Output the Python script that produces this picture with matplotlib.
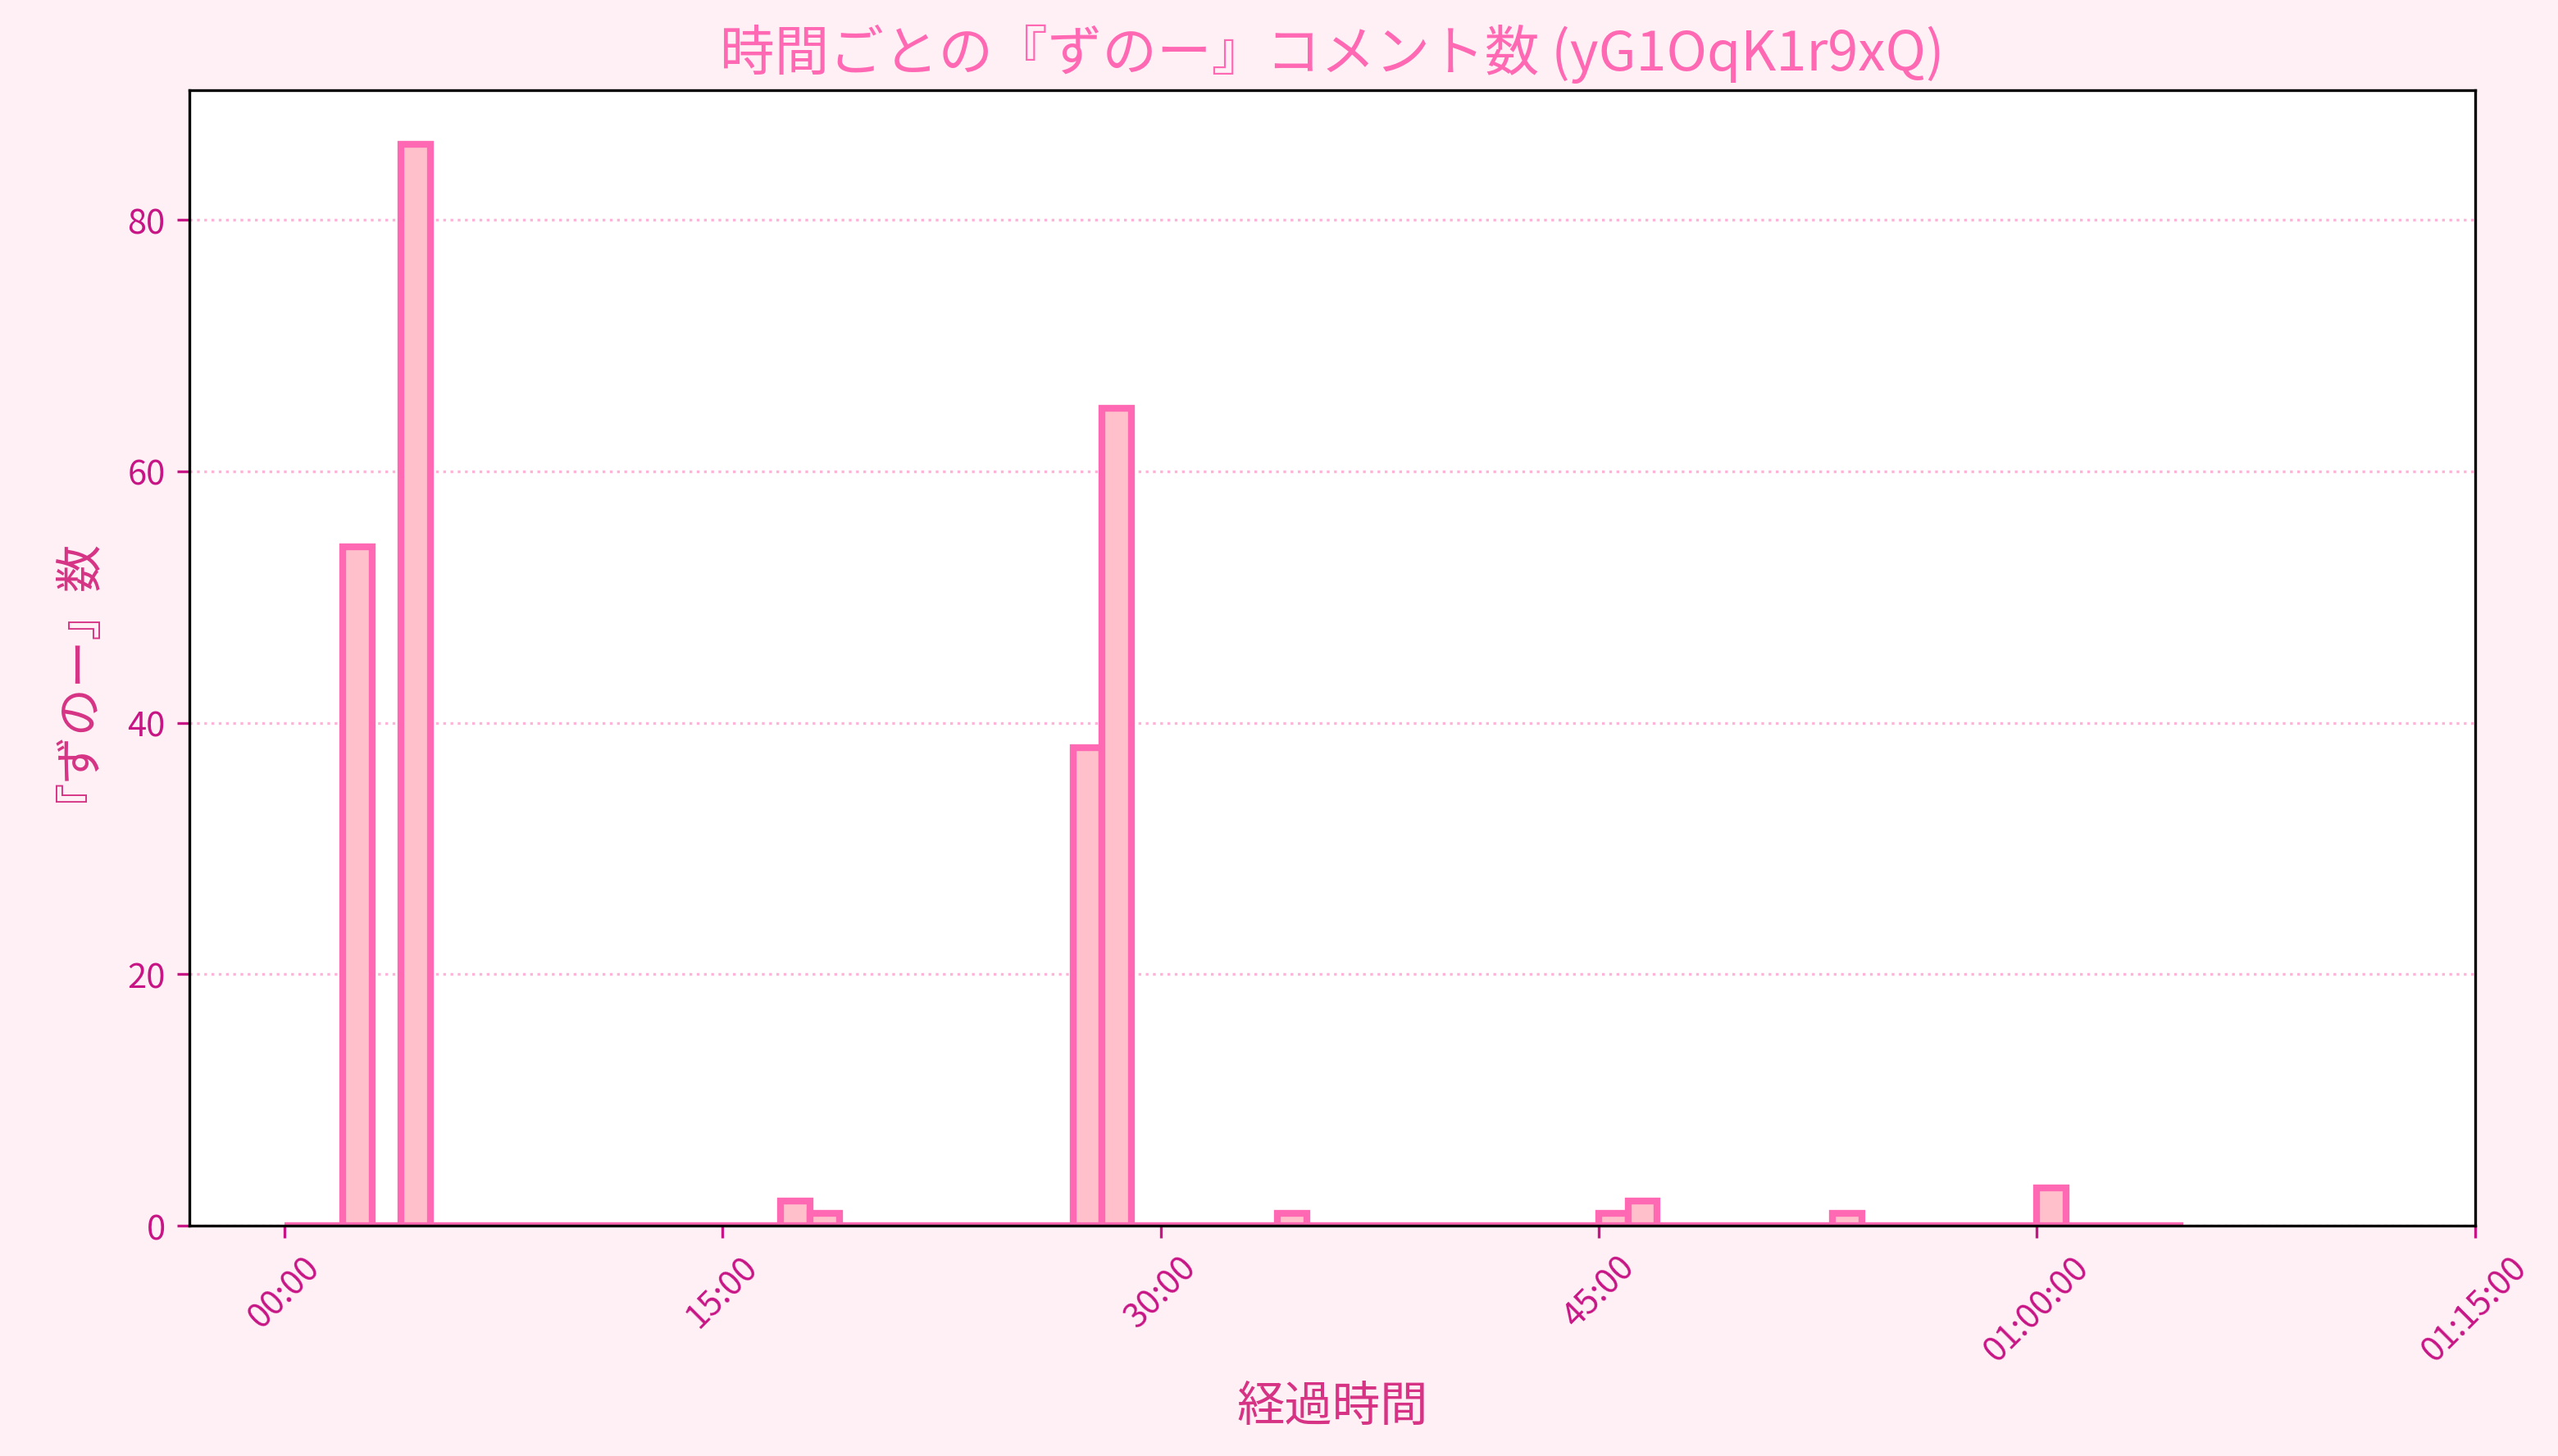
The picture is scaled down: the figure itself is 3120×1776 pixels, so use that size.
#!/usr/bin/env python3
"""Per-minute histogram of 『ずのー』 comments for one stream."""

import matplotlib

matplotlib.use("Agg")
import matplotlib.pyplot as plt
import numpy as np
from matplotlib.ticker import FuncFormatter

plt.rcParams["font.family"] = ["Noto Sans CJK JP", "DejaVu Sans"]

VIDEO_ID = "yG1OqK1r9xQ"
BIN_MINUTES = 1
N_BINS = 65
# minute index -> comment count (all other minutes are zero)
hit_minutes = [2, 4, 17, 18, 27, 28, 34, 45, 46, 53, 60]
hit_counts = [54, 86, 2, 1, 38, 65, 1, 1, 2, 1, 3]
tick_minutes = [0, 15, 30, 45, 60, 75]

counts = np.zeros(N_BINS)
counts[hit_minutes] = hit_counts
edges = np.arange(N_BINS + 1) * BIN_MINUTES * 60
starts = edges[:-1]


def fmt_time(sec, _pos=None):
    sec = int(round(sec))
    h, rem = divmod(sec, 3600)
    m, s = divmod(rem, 60)
    if h:
        return f"{h:02d}:{m:02d}:{s:02d}"
    return f"{m:02d}:{s:02d}"


fig, ax = plt.subplots(figsize=(10.4, 5.9233), dpi=300)
fig.patch.set_facecolor("#fff0f5")
ax.set_facecolor("white")

ax.hist(starts, bins=edges, weights=counts, color="#ffc0cb",
        edgecolor="#ff69b4", linewidth=2)

ax.set_xticks([m * 60 for m in tick_minutes])
ax.xaxis.set_major_formatter(FuncFormatter(fmt_time))
ax.set_xlim(-3.25 * 60, tick_minutes[-1] * 60)
ax.set_yticks([0, 20, 40, 60, 80])

ax.tick_params(axis="both", colors="#c71585", labelsize=10)
plt.setp(ax.get_xticklabels(), rotation=45)

ax.grid(axis="y", linestyle=":", color="#ff69b4", alpha=0.5, linewidth=0.8)
ax.set_axisbelow(True)

ax.set_title(f"時間ごとの『ずのー』コメント数 ({VIDEO_ID})", fontsize=16, color="#ff69b4")
ax.set_xlabel("経過時間", fontsize=14, color="#d63384")
ax.set_ylabel("『ずのー』数", fontsize=14, color="#d63384", labelpad=14)

fig.subplots_adjust(left=0.074, right=0.9676, top=0.9375, bottom=0.158)
fig.savefig("out.png", dpi=300, facecolor=fig.get_facecolor())
